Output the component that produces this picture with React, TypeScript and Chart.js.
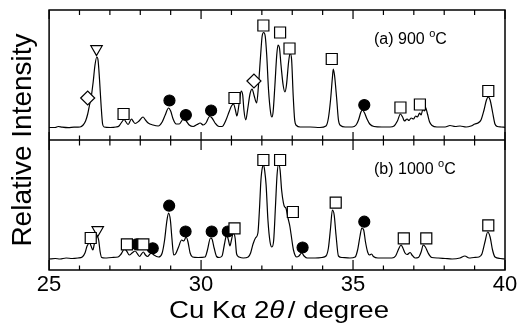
import React, { useEffect, useRef } from 'react';
import { Chart, registerables } from 'chart.js';

Chart.register(...registerables);

const FONT = '"Liberation Sans", Arial, Helvetica, sans-serif';

// ---------- (a) 900 °C pattern ----------
const twoTheta900 = [
  25.00, 25.20, 25.30, 25.43, 25.63, 25.82, 26.02, 26.12, 26.20, 26.27,
  26.33, 26.38, 26.45, 26.51, 26.57, 26.61, 26.66, 26.71, 26.76, 26.81,
  27.01, 27.20, 27.30, 27.37, 27.47, 27.53, 27.60, 27.71, 27.76, 27.83,
  27.96, 28.09, 28.17, 28.26, 28.42, 28.59, 28.72, 28.82, 28.93, 29.00,
  29.08, 29.18, 29.28, 29.42, 29.51, 29.61, 29.74, 29.87, 29.97, 30.07,
  30.16, 30.28, 30.36, 30.46, 30.59, 30.69, 30.82, 30.92, 31.00, 31.07,
  31.13, 31.18, 31.25, 31.32, 31.37, 31.41, 31.47, 31.53, 31.61, 31.68,
  31.74, 31.83, 31.89, 31.96, 32.01, 32.06, 32.11, 32.16, 32.22, 32.29,
  32.33, 32.37, 32.43, 32.49, 32.53, 32.58, 32.63, 32.70, 32.76, 32.81,
  32.88, 32.93, 32.98, 33.03, 33.08, 33.14, 33.26, 33.59, 33.91, 34.11,
  34.19, 34.26, 34.32, 34.35, 34.39, 34.46, 34.52, 34.59, 34.74, 34.97,
  35.10, 35.18, 35.26, 35.31, 35.38, 35.46, 35.55, 35.69, 35.95, 36.22,
  36.35, 36.46, 36.56, 36.63, 36.69, 36.78, 36.84, 36.91, 36.99, 37.06,
  37.12, 37.19, 37.24, 37.30, 37.35, 37.38, 37.45, 37.52, 37.60, 37.76,
  38.03, 38.19, 38.36, 38.52, 38.72, 38.88, 39.01, 39.11, 39.21, 39.31,
  39.39, 39.45, 39.51, 39.59, 39.67, 39.75, 39.87, 40.00,
];
const intensity900 = [
  12.5, 12.5, 13.5, 12.8, 12.3, 12.8, 13, 15, 19, 26,
  35, 42, 58, 75, 83, 80, 60, 35, 16, 13,
  12.5, 13, 14, 17, 20.5, 18, 15.5, 21, 19, 16.5,
  19, 23, 20, 17, 15, 14, 18, 25, 32, 29,
  21, 16, 16, 21, 19, 15, 13.5, 15.5, 17, 15,
  17, 23.5, 22, 17, 13.5, 13.5, 20, 28, 34, 36,
  30, 24, 36, 49, 45, 30, 20, 30, 46, 51,
  45, 37, 55, 85, 104, 107.5, 104, 85, 50, 27,
  23, 28, 55, 85, 95, 92, 75, 55, 48, 55,
  78, 87, 80, 45, 20, 14.5, 13, 13, 12.5, 14,
  22, 40, 62, 71, 65, 42, 20, 14.5, 13, 13,
  15, 20, 28, 30, 27, 21, 16, 13.5, 13, 13,
  14, 19, 26, 23, 19, 21, 19.5, 22, 21, 24,
  23, 27, 25, 31, 29, 33, 26, 18, 14.5, 13,
  13, 14.5, 13.5, 14, 13, 14, 16, 17, 20, 30,
  40, 43, 40, 28, 16, 13.5, 13, 12.7,
];

// ---------- (b) 1000 °C pattern ----------
const twoTheta1000 = [
  25.00, 25.20, 25.36, 25.56, 25.76, 25.95, 26.09, 26.18, 26.25, 26.33,
  26.38, 26.44, 26.50, 26.57, 26.63, 26.68, 26.73, 26.84, 27.07, 27.27,
  27.37, 27.48, 27.55, 27.64, 27.73, 27.83, 27.91, 27.98, 28.04, 28.10,
  28.17, 28.24, 28.32, 28.38, 28.45, 28.60, 28.72, 28.80, 28.87, 28.93,
  28.99, 29.04, 29.10, 29.16, 29.26, 29.36, 29.43, 29.51, 29.57, 29.64,
  29.72, 29.90, 30.13, 30.21, 30.31, 30.36, 30.43, 30.51, 30.59, 30.69,
  30.77, 30.84, 30.90, 30.95, 31.00, 31.06, 31.12, 31.17, 31.25, 31.39,
  31.55, 31.63, 31.71, 31.79, 31.87, 31.92, 31.97, 32.02, 32.06, 32.09,
  32.14, 32.20, 32.27, 32.33, 32.39, 32.45, 32.50, 32.55, 32.60, 32.65,
  32.71, 32.75, 32.79, 32.86, 32.92, 32.96, 33.04, 33.15, 33.22, 33.31,
  33.39, 33.49, 33.75, 33.98, 34.11, 34.19, 34.26, 34.32, 34.38, 34.44,
  34.52, 34.64, 34.90, 35.07, 35.15, 35.23, 35.29, 35.35, 35.41, 35.48,
  35.54, 35.61, 35.67, 35.82, 36.05, 36.28, 36.40, 36.50, 36.58, 36.64,
  36.71, 36.78, 36.88, 36.94, 37.04, 37.15, 37.24, 37.31, 37.38, 37.47,
  37.59, 37.80, 38.03, 38.26, 38.52, 38.68, 38.82, 38.98, 39.14, 39.24,
  39.34, 39.43, 39.51, 39.59, 39.67, 39.84, 40.00,
];
const intensity1000 = [
  11, 11.5, 11, 12, 11.5, 12, 13, 17, 24, 27,
  24, 20, 28, 34, 30, 18, 12.5, 12, 12.5, 13,
  16, 21, 19, 15, 17, 19, 16, 13.5, 16, 18,
  15, 13.5, 16, 17, 15, 13, 17, 30, 48, 57,
  50, 32, 15, 16, 23, 30, 29, 33, 28, 17,
  13, 12.5, 13, 20, 32, 31, 22, 13.5, 12.5, 14,
  26, 35, 30, 24, 30, 37, 32, 16, 13, 12,
  13, 17, 26, 32, 37, 60, 90, 103, 105, 100,
  85, 50, 28, 23, 30, 65, 95, 106, 100, 80,
  67, 63, 62, 52, 44, 36, 20, 13, 14, 17,
  14, 12, 12, 12.5, 14, 22, 42, 60, 55, 35,
  14, 12.5, 12, 13, 20, 34, 42, 40, 28, 18,
  15, 16, 13.5, 12, 12, 12, 14, 21, 25, 22,
  17, 15.5, 17.5, 15, 12, 12.5, 18, 25, 23, 17,
  12.5, 12, 11.5, 11, 12, 14, 12, 12.5, 13, 16,
  28, 38, 33, 20, 13, 11.5, 11,
];

// ---------- phase markers (a) ----------
const square900X = [27.45, 31.1, 32.05, 32.6, 32.91, 34.3, 36.56, 37.2, 39.45];
const square900Y = [26, 42, 114.5, 107.5, 91.5, 81, 32.5, 35.5, 49];
const circle900X = [28.96, 29.5, 30.33, 35.37];
const circle900Y = [39.5, 25, 29.5, 35];
const triangle900X = [26.56];
const triangle900Y = [91];
const diamond900X = [26.27, 31.74];
const diamond900Y = [42, 59];

// ---------- phase markers (b) ----------
const square1000X = [26.37, 27.56, 28.1, 31.1, 32.05, 32.6, 33.02, 34.43, 36.67, 37.41, 39.45];
const square1000Y = [32, 25.7, 25.7, 41.7, 110, 110, 58, 67.3, 31.7, 31.7, 44.7];
const circle1000X = [27.88, 28.41, 28.95, 29.49, 30.35, 30.88, 33.34, 35.37];
const circle1000Y = [25.7, 21.7, 64.3, 38.5, 38.5, 38.5, 22.5, 48.3];
const triangle1000X = [26.6];
const triangle1000Y = [40];

const panelLabels = ['(a) 900 ', '(b) 1000 '];
const xTickValues = [25, 30, 35, 40];

const toPoints = (xs: number[], ys: number[]) => xs.map((x, i) => ({ x, y: ys[i] }));

const lineDs = (xs: number[], ys: number[], yAxisID: string) => ({
  data: toPoints(xs, ys),
  yAxisID,
  xAxisID: 'x',
  borderColor: '#000',
  borderWidth: 1.2,
  pointRadius: 0,
  fill: false,
  cubicInterpolationMode: 'monotone',
  order: 2,
});

const markerDs = (
  xs: number[], ys: number[], yAxisID: string, style: string, filled: boolean, radius: number, rotation = 0,
) => ({
  data: toPoints(xs, ys),
  yAxisID,
  xAxisID: 'x',
  showLine: false,
  pointStyle: style,
  pointRadius: radius,
  pointRotation: rotation,
  pointBackgroundColor: filled ? '#000' : '#fff',
  pointBorderColor: '#000',
  pointBorderWidth: 1.2,
  order: 0,
  clip: false,
});

const decorPlugin = {
  id: 'xrdDecor',
  afterDraw(chart: any) {
    const { ctx } = chart;
    const xs = chart.scales.x;
    const yT = chart.scales.yTop;
    const yB = chart.scales.yBottom;
    const left = xs.left, right = xs.right;
    const top = yT.top, mid = yT.bottom, bottom = yB.bottom;
    ctx.save();
    ctx.strokeStyle = '#000';
    ctx.lineWidth = 1.5;
    ctx.strokeRect(left, top, right - left, bottom - top);
    ctx.beginPath();
    ctx.moveTo(left, mid);
    ctx.lineTo(right, mid);
    ctx.stroke();

    ctx.lineWidth = 1.2;
    ctx.beginPath();
    for (let v = xs.min; v <= xs.max + 1e-6; v += 1) {
      const px = xs.getPixelForValue(v);
      const major = xTickValues.includes(Math.round(v));
      ctx.moveTo(px, top);
      ctx.lineTo(px, top + (major ? 9 : 5));
      ctx.moveTo(px, mid - (major ? 8 : 4.5));
      ctx.lineTo(px, mid + (major ? 10 : 5.5));
      ctx.moveTo(px, bottom);
      ctx.lineTo(px, bottom - (major ? 10 : 4.5));
    }
    ctx.stroke();

    // panel labels
    ctx.fillStyle = '#000';
    ctx.textBaseline = 'alphabetic';
    ctx.textAlign = 'left';
    const lx = xs.getPixelForValue(35.69);
    [yT, yB].forEach((ys: any, i: number) => {
      const base = ys.getPixelForValue(96.5);
      ctx.font = `16px ${FONT}`;
      const t = panelLabels[i];
      ctx.fillText(t, lx, base);
      let w = ctx.measureText(t).width;
      ctx.font = `11px ${FONT}`;
      ctx.fillText('o', lx + w, base - 7);
      w += ctx.measureText('o').width;
      ctx.font = `16px ${FONT}`;
      ctx.fillText('C', lx + w, base);
    });

    // x axis title with italic theta
    const cx = (left + right) / 2 + 2;
    const baseY = bottom + 48;
    const sx = 1.15;
    ctx.font = `24px ${FONT}`;
    const p1 = 'Cu K\u03b1 2';
    const p3 = '/ degree';
    const w1 = ctx.measureText(p1).width;
    const w3 = ctx.measureText(p3).width;
    ctx.font = `italic 24px ${FONT}`;
    const w2 = ctx.measureText('\u03b8').width + 3;
    const total = (w1 + w2 + w3) * sx;
    ctx.translate(cx - total / 2, baseY);
    ctx.scale(sx, 1);
    ctx.font = `24px ${FONT}`;
    ctx.fillText(p1, 0, 0);
    ctx.font = `italic 24px ${FONT}`;
    ctx.fillText('\u03b8', w1, 0);
    ctx.font = `24px ${FONT}`;
    ctx.fillText(p3, w1 + w2, 0);
    ctx.restore();
  },
};

export default function App() {
  const ref = useRef<HTMLCanvasElement>(null);
  useEffect(() => {
    document.body.style.margin = '0';
    const canvas = ref.current;
    if (!canvas) return;
    const chart = new Chart(canvas, {
      type: 'line',
      data: {
        datasets: [
          markerDs(square900X, square900Y, 'yTop', 'rect', false, 7.8),
          markerDs(circle900X, circle900Y, 'yTop', 'circle', true, 5.5),
          markerDs(triangle900X, triangle900Y, 'yTop', 'triangle', false, 6.6, 180),
          markerDs(diamond900X, diamond900Y, 'yTop', 'rectRot', false, 7),
          markerDs(square1000X, square1000Y, 'yBottom', 'rect', false, 7.8),
          markerDs(circle1000X, circle1000Y, 'yBottom', 'circle', true, 5.5),
          markerDs(triangle1000X, triangle1000Y, 'yBottom', 'triangle', false, 6.6, 180),
          lineDs(twoTheta900, intensity900, 'yTop'),
          lineDs(twoTheta1000, intensity1000, 'yBottom'),
        ] as any,
      },
      options: {
        responsive: false,
        animation: false,
        devicePixelRatio: 1,
        layout: { padding: { top: 10, right: 12, left: 0, bottom: 0 } },
        scales: {
          x: {
            type: 'linear',
            min: 25,
            max: 40,
            ticks: {
              stepSize: 5,
              color: '#000',
              font: { size: 22, family: FONT },
              padding: 2,
              maxRotation: 0,
              autoSkip: false,
            },
            grid: { display: false, drawTicks: false },
            border: { display: false },
            afterFit: (scale: any) => {
              scale.height = 60;
              scale.paddingLeft = 0;
              scale.paddingRight = 0;
            },
          },
          yTop: {
            type: 'linear',
            min: 0,
            max: 130,
            display: false,
            position: 'left',
            stack: 'xrd',
            stackWeight: 1,
            weight: 1,
          },
          yBottom: {
            type: 'linear',
            min: 0,
            max: 130,
            display: false,
            position: 'left',
            stack: 'xrd',
            stackWeight: 1,
            weight: 0,
          },
        } as any,
        plugins: {
          legend: { display: false },
          tooltip: { enabled: false },
          title: {
            display: true,
            text: 'Relative Intensity',
            position: 'left',
            fullSize: false,
            color: '#000',
            font: { size: 28, family: FONT, weight: 'normal' },
            padding: { top: 6, bottom: 9.5 },
          },
        } as any,
      },
      plugins: [decorPlugin],
    });
    return () => chart.destroy();
  }, []);
  return (
    <div style={{ width: 517, height: 330 }}>
      <canvas ref={ref} width={517} height={330} style={{ display: 'block' }} />
    </div>
  );
}
